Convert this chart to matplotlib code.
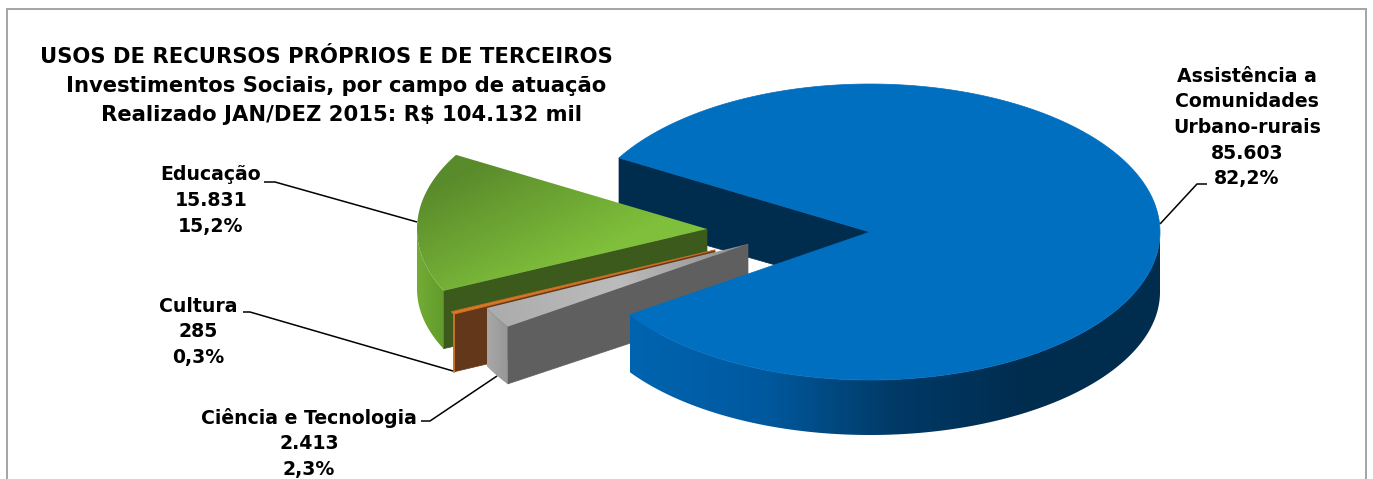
import numpy as np
import matplotlib
matplotlib.use("Agg")
import matplotlib.pyplot as plt
from matplotlib.colors import LinearSegmentedColormap
from matplotlib.patches import Polygon, Rectangle

categories = ["Assistência a\nComunidades\nUrbano-rurais", "Educação", "Cultura", "Ciência e Tecnologia"]
values = [85603, 15831, 285, 2413]
value_labels = ["85.603", "15.831", "285", "2.413"]
pct_labels = ["82,2%", "15,2%", "0,3%", "2,3%"]
title_lines = ["USOS DE RECURSOS PRÓPRIOS E DE TERCEIROS",
               "Investimentos Sociais, por campo de atuação",
               "Realizado JAN/DEZ 2015: R$ 104.132 mil"]

W, H = 1373, 479
FONT = "DejaVu Sans"
FS_TITLE = 15.2
FS = 13.6
RX, RY, DEPTH = 290, 148, 60
RY_LOW = 143
START = 214.0
centers = [(870, 232), (707, 229), (715, 250), (748, 244)]

fig = plt.figure(figsize=(W / 100, H / 100), dpi=100)
ax = fig.add_axes([0, 0, 1, 1])
ax.set_xlim(0, W)
ax.set_ylim(H, 0)
ax.axis("off")

vals = np.array(values, float)
sweeps = vals / vals.sum() * 360
starts = START + np.concatenate([[0], np.cumsum(sweeps)[:-1]])
starts = np.where(starts >= 360, starts - 360, starts)
ends = starts + sweeps


def pt(c, a, ry=RY):
    a = np.radians(a)
    return np.column_stack([c[0] + RX * np.cos(a), c[1] - ry * np.sin(a)])


def arc(c, a0, a1, ry=RY):
    return pt(c, np.linspace(a0, a1, max(int(abs(a1 - a0) * 2), 2)), ry)


def low(c):
    return (c[0], c[1] + DEPTH)


def top_face(i):
    return np.vstack([[centers[i]], arc(centers[i], starts[i], ends[i])])


def end_wall(i, a):
    c = centers[i]
    e = pt(c, np.array([a]))[0]
    e2 = pt(low(c), np.array([a]), RY_LOW)[0]
    return np.array([c, e, e2, low(c)])


def side_wall(i, a0, a1):
    p = arc(centers[i], a0, a1)
    q = arc(low(centers[i]), a0, a1, RY_LOW)
    return np.vstack([p, q[::-1]])


def solid(poly, color, z, ec=None, lw=0.0):
    ax.add_patch(Polygon(poly, closed=True, fc=color, ec=ec or color, lw=lw or 0.5, zorder=z))


def grad(poly, stops, p0, p1, z):
    x0, y0 = poly.min(axis=0)
    x1, y1 = poly.max(axis=0)
    nx, ny = int(x1 - x0) + 2, int(y1 - y0) + 2
    X, Y = np.meshgrid(np.linspace(x0, x1, nx), np.linspace(y0, y1, ny))
    d = np.array(p1, float) - np.array(p0, float)
    T = np.clip(((X - p0[0]) * d[0] + (Y - p0[1]) * d[1]) / (d @ d), 0, 1)
    cmap = LinearSegmentedColormap.from_list("g", stops)
    im = ax.imshow(T, cmap=cmap, vmin=0, vmax=1, extent=(x0, x1, y1, y0),
                   aspect="auto", interpolation="bilinear", zorder=z)
    im.set_clip_path(Polygon(poly, closed=True, transform=ax.transData))


# frame
for r in [((6, 8), 1360, 2), ((6, 8), 2, H), ((1365, 8), 2, H)]:
    ax.add_patch(Rectangle(r[0], r[1], r[2], fc="#a6a6a6", ec="none", zorder=0))

# blue inner wall (behind everything)
solid(end_wall(0, ends[0]), "#002c4e", 1)

# green
solid(end_wall(1, ends[1]), "#3b5a1b", 2)
grad(side_wall(1, 180, ends[1]), ["#74ad35", "#609a2c"], (415, 0), (445, 0), 2.1)
grad(top_face(1), ["#598a2b", "#7fbf3b"], (470, 165), (530, 285), 2.2)

# orange
wall2 = end_wall(2, ends[2])
solid(wall2, "#63381a", 3)
ax.plot(wall2[1:3, 0], wall2[1:3, 1], color="#e07a28", lw=1.2, zorder=3.05)
solid(top_face(2), "#e07a28", 3.1, ec="#c96d22", lw=0.8)

# grey
solid(end_wall(3, ends[3]), "#5f5f5f", 4)
grad(side_wall(3, starts[3], ends[3]), ["#a8a8a8", "#969696"], (487, 0), (508, 0), 4.1)
grad(top_face(3), ["#acacac", "#bcbcbc", "#8f8f8f"], (490, 310), (745, 245), 4.2)

# blue front
grad(side_wall(0, starts[0], 360), ["#0064b0", "#00599f", "#003a66", "#002c4e", "#002c4e"],
     (629, 0), (1160, 0), 5)
solid(top_face(0), "#006fc0", 5.1)

# texts
def lines(x, y, items, step=25.7, ha="center"):
    for k, s in enumerate(items):
        ax.text(x, y + k * step, s, ha=ha, va="center", fontsize=FS, fontweight="bold",
                family=FONT, color="black", zorder=10)


for (tx, ty), s in zip([(40, 57), (66, 86), (101, 115)], title_lines):
    ax.text(tx, ty, s, ha="left", va="center", fontsize=FS_TITLE, fontweight="bold", family=FONT, zorder=10)

label_pos = [(1247, 76), (211, 175), (198, 306), (309, 418)]
for i in range(4):
    lines(*label_pos[i], categories[i].split("\n") + [value_labels[i], pct_labels[i]])

# leader lines
leaders = [[(1160, 224), (1197, 184), (1207, 184)],
           [(264, 182), (275, 182), (417, 222)],
           [(243, 312), (250, 312), (453, 371)],
           [(421, 421), (430, 421), (497, 376)]]
for l in leaders:
    a = np.array(l)
    ax.plot(a[:, 0], a[:, 1], color="black", lw=1.1, zorder=9, solid_capstyle="butt")

ax.set_xlim(0, W)
ax.set_ylim(H, 0)
fig.savefig("out.png", dpi=100, facecolor="white")
